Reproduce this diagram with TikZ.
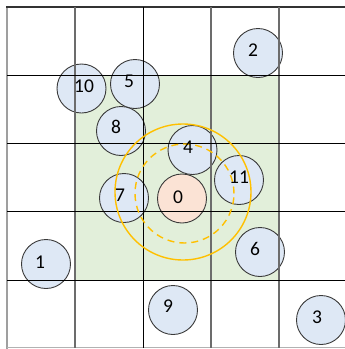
\documentclass[tikz,border=0pt]{standalone}
\usepackage{fontspec}
\setmainfont{Carlito}
\definecolor{cblue}{HTML}{DEE8F5}
\definecolor{corange}{HTML}{FBE3D5}
\definecolor{cgreen}{HTML}{E2EFDA}
\definecolor{cyellow}{HTML}{FFC000}
\definecolor{cstroke}{HTML}{3A3A3A}
\tikzset{
  bcirc/.style={circle,draw=cstroke,fill=cblue,line width=0.9pt,minimum size=49pt,inner sep=0pt},
  ocirc/.style={bcirc,fill=corange},
  lbl/.style={inner sep=0pt,font=\fontsize{19.5}{21}\selectfont,text=black},
  hline/.style={black,line width=1pt},
  vline/.style={gray!85!black,line width=1.1pt},
  ring/.style={cyellow,line width=1.4pt},
}
\begin{document}
\begin{tikzpicture}[x=1pt,y=-1pt]
\useasboundingbox (0,0) rectangle (345,349);
% green area
\fill[cgreen] (75,75) rectangle (279,280);
% circles
\node[bcirc] (c10) at (81.5,88.5) {};
\node[bcirc] (c5) at (135,84) {};
\node[bcirc] (c8) at (121,131) {};
\node[bcirc] (c2) at (258,53) {};
\node[bcirc] (c4) at (192.5,150) {};
\node[bcirc] (c11) at (239,180) {};
\node[bcirc] (c7) at (124,198) {};
\node[ocirc] (c0) at (182,198.5) {};
\node[bcirc] (c1) at (46,264) {};
\node[bcirc] (c9) at (173,310) {};
\node[bcirc] (c6) at (260,252) {};
\node[bcirc] (c3) at (321,320) {};
% grid
\draw[gray!75,line width=2pt] (6.5,7) -- (6.5,349);
\draw[black!80,line width=1.1pt] (6,7) -- (345,7);
\draw[gray!60,line width=1.1pt] (7,347.5) -- (345,347.5);
\foreach \x in {75,211,279} \draw[vline] (\x,7) -- (\x,348);
\draw[hline] (143,7) -- (143,348);
\foreach \y in {75,143,211,280} \draw[hline] (7,\y) -- (345,\y);
% rings
\draw[ring] (183,192) circle[radius=68pt];
\draw[ring,dash pattern=on 7pt off 5pt] (184.5,193.5) circle[radius=49.5pt];
% labels
\node[lbl] (t10) at (84,86) {10};
\node[lbl] (t5) at (129,81) {5};
\node[lbl] (t8) at (116,127) {8};
\node[lbl] (t2) at (253,50) {2};
\node[lbl] (t4) at (188,147) {4};
\node[lbl] (t11) at (239,177) {11};
\node[lbl] (t7) at (120,195) {7};
\node[lbl] (t0) at (178,197) {0};
\node[lbl] (t1) at (40,262) {1};
\node[lbl] (t9) at (168,306) {9};
\node[lbl] (t6) at (255,249) {6};
\node[lbl] (t3) at (317,317) {3};
\end{tikzpicture}
\end{document}
